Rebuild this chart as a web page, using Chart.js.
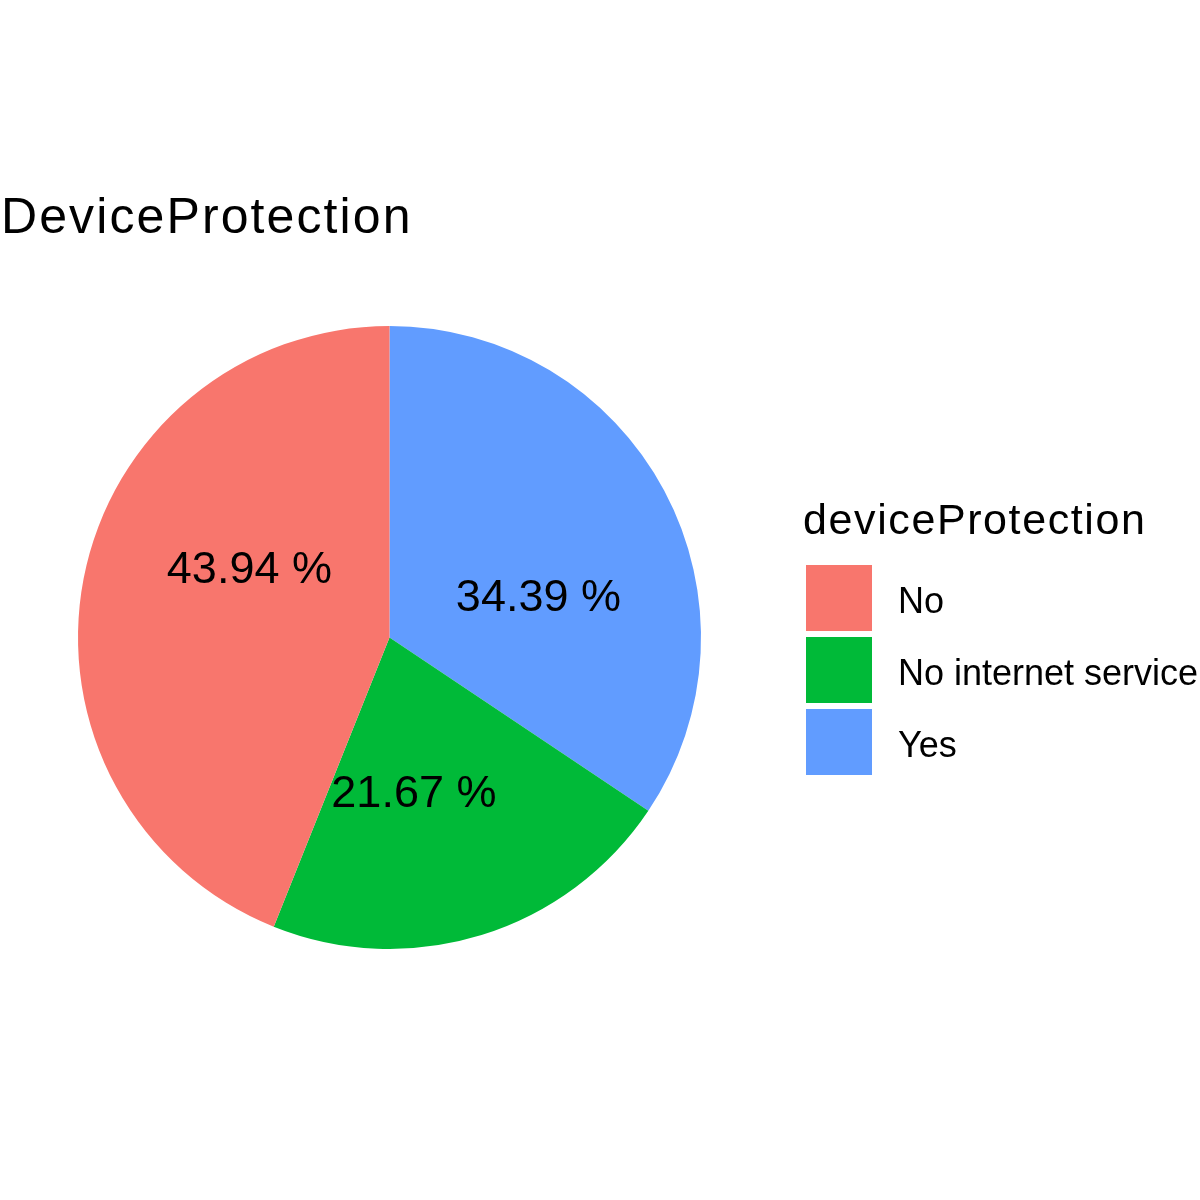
<!DOCTYPE html>
<html>
<head>
<meta charset="utf-8">
<script src="https://cdn.jsdelivr.net/npm/chart.js@4.4.0/dist/chart.umd.min.js"></script>
<style>
  html, body { margin: 0; padding: 0; background: #ffffff; }
  #wrap { position: relative; width: 1200px; height: 1200px; overflow: hidden; font-family: 'Liberation Sans', Arial, sans-serif; color: #000; }
  #c { position: absolute; left: 0; top: 0; }
  .txt { position: absolute; line-height: 1; white-space: nowrap; }
  .key { position: absolute; width: 66px; height: 66px; }
</style>
</head>
<body>
<div id="wrap">
  <canvas id="c" width="1200" height="1200"></canvas>
  <div class="txt" id="title" style="left:1px; top:190.7px; font-size:50px; letter-spacing:2.1px;"></div>
  <div class="txt" id="legtitle" style="left:803px; top:497.6px; font-size:43px; letter-spacing:1.6px;"></div>
  <div id="legend"></div>
</div>
<script>
// Data
const chartTitle = "DeviceProtection";
const legendTitle = "deviceProtection";
const categories = ["No", "No internet service", "Yes"];
const percentages = [43.94, 21.67, 34.39];
const colors = ["#F8766D", "#00BA38", "#619CFF"];

// drawing order (clockwise from 12 o'clock) is reverse of legend order
const order = [2, 1, 0];
const drawLabels = order.map(i => categories[i]);
const drawValues = order.map(i => percentages[i]);
const drawColors = order.map(i => colors[i]);

document.getElementById('title').textContent = chartTitle;
document.getElementById('legtitle').textContent = legendTitle;
const leg = document.getElementById('legend');
categories.forEach((cat, i) => {
  const k = document.createElement('div');
  k.className = 'key';
  k.style.left = '806px';
  k.style.top = (565 + i * 72) + 'px';
  k.style.background = colors[i];
  leg.appendChild(k);
  const t = document.createElement('div');
  t.className = 'txt';
  t.style.fontSize = '36px';
  t.style.left = '898px';
  t.style.top = (582.5 + i * 72) + 'px';
  t.textContent = cat;
  leg.appendChild(t);
});

const labelPlugin = {
  id: 'pctLabels',
  afterDatasetsDraw(chart) {
    const ctx = chart.ctx;
    const meta = chart.getDatasetMeta(0);
    ctx.save();
    ctx.fillStyle = '#000';
    ctx.font = "45px 'Liberation Sans', Arial, sans-serif";
    ctx.textAlign = 'center';
    ctx.textBaseline = 'alphabetic';
    meta.data.forEach((arc, i) => {
      const p = arc.getProps(['x', 'y', 'startAngle', 'endAngle', 'outerRadius'], true);
      const a = p.startAngle + 0.6 * (p.endAngle - p.startAngle);
      const r = 0.5 * p.outerRadius;
      const x = p.x + r * Math.cos(a);
      const y = p.y + r * Math.sin(a);
      ctx.fillText(drawValues[i].toFixed(2) + ' %', x - 1, y + 16);
    });
    ctx.restore();
  }
};

new Chart(document.getElementById('c'), {
  type: 'pie',
  data: {
    labels: drawLabels,
    datasets: [{
      data: drawValues,
      backgroundColor: drawColors,
      borderWidth: 0,
      hoverOffset: 0
    }]
  },
  options: {
    responsive: false,
    animation: false,
    layout: { padding: { left: 78, right: 499, top: 326, bottom: 251 } },
    plugins: {
      legend: { display: false },
      tooltip: { enabled: false },
      title: { display: false }
    }
  },
  plugins: [labelPlugin]
});
</script>
</body>
</html>
